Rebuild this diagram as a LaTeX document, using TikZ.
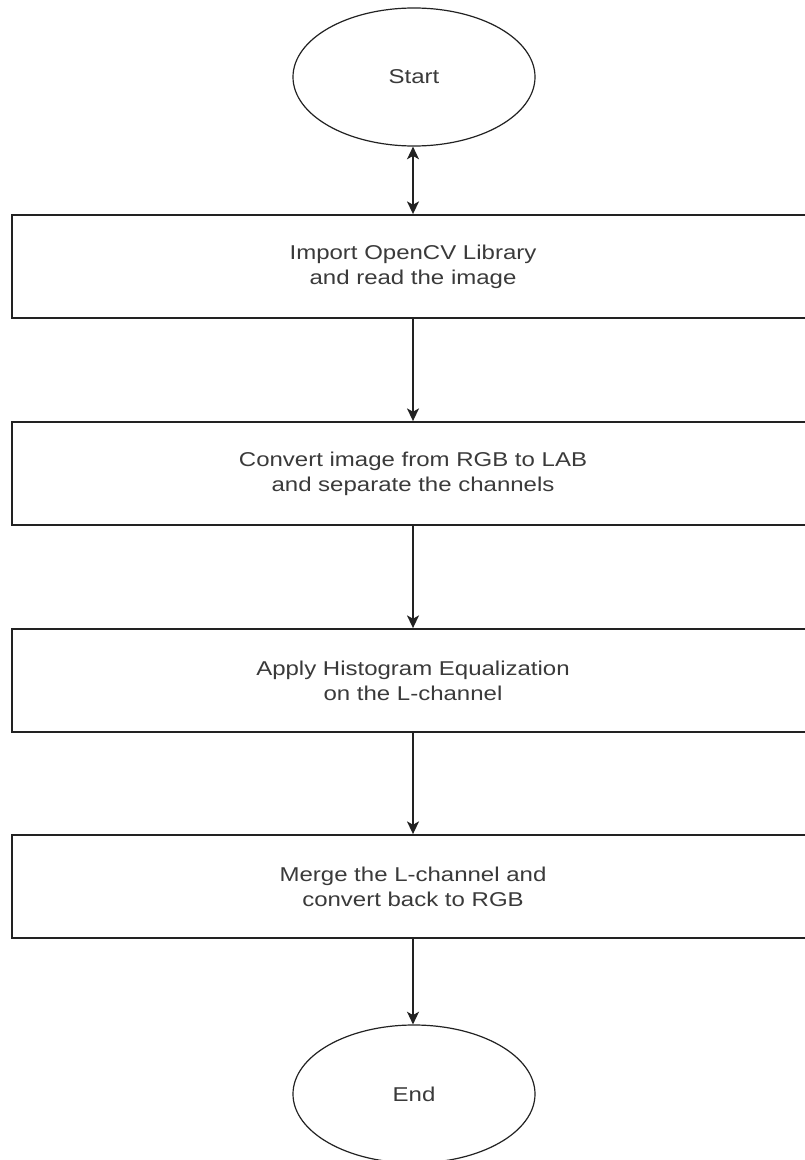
\documentclass[tikz,border=0pt]{standalone}
\usepackage{fontspec}
\setmainfont{Liberation Sans}[FakeStretch=1.2]
\usetikzlibrary{arrows.meta,shapes.geometric}
\definecolor{inkline}{HTML}{222222}
\definecolor{inktext}{HTML}{3A3A3A}
\tikzset{
  flowtext/.style={font=\fontsize{15pt}{18.75pt}\selectfont, text=inktext, align=center},
  terminal/.style={flowtext, ellipse, draw=inkline, line width=0.9pt,
    minimum width=181.5pt, minimum height=103.5pt, inner sep=0pt},
  process/.style={flowtext, rectangle, draw=inkline, line width=1.4pt,
    minimum width=601.5pt, minimum height=77.25pt, inner sep=0pt},
  flowarrow/.style={draw=inkline, line width=1.1pt,
    -{Stealth[length=9.5pt,width=9pt,inset=2.5pt]}},
  twoway/.style={draw=inkline, line width=1.1pt,
    {Stealth[length=9.5pt,width=9pt,inset=2.5pt]}-{Stealth[length=9.5pt,width=9pt,inset=2.5pt]}}
}
\begin{document}
\begin{tikzpicture}[x=0.75pt,y=-0.75pt]
  \useasboundingbox (0,0) rectangle (805,1160);
  \fill[white] (0,0) rectangle (805,1160);
  \clip (0,0) rectangle (805,1160);

  \node[terminal] (start) at (414,77) {Start};
  \node[process] (import) at (413,266.5) {Import OpenCV Library\\and read the image};
  \node[process] (convert) at (413,473.5) {Convert image from RGB to LAB\\and separate the channels};
  \node[process] (equalize) at (413,680.5) {Apply Histogram Equalization\\on the L-channel};
  \node[process] (merge) at (413,886.5) {Merge the L-channel and\\convert back to RGB};
  \node[terminal] (finish) at (414,1094) {End};

  \draw[twoway] (start.south -| import.north) -- (import.north);
  \draw[flowarrow] (import) -- (convert);
  \draw[flowarrow] (convert) -- (equalize);
  \draw[flowarrow] (equalize) -- (merge);
  \draw[flowarrow] (merge.south) -- (merge.south |- finish.north);
\end{tikzpicture}
\end{document}
